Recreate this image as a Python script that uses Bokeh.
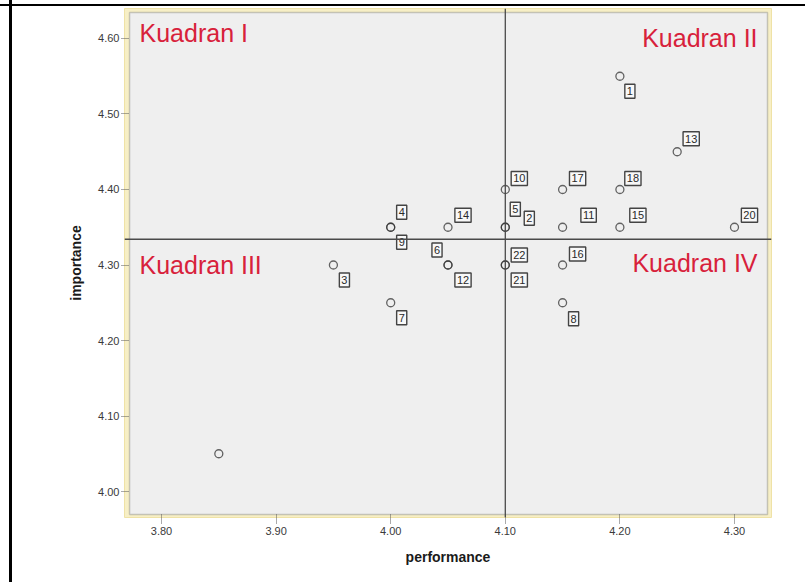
import numpy as np
from bokeh.plotting import figure
from bokeh.models import (ColumnDataSource, FixedTicker, NumeralTickFormatter,
                          Span, BoxAnnotation, Label, Range1d)
from bokeh.core.properties import value
from bokeh.embed import file_html
from bokeh.resources import INLINE

# ---------------- data ----------------
items = ["1", "2", "3", "4", "5", "6", "7", "8", "9", "10", "11",
         "12", "13", "14", "15", "16", "17", "18", "19", "20", "21", "22"]
performance = [4.20, 4.10, 3.95, 4.00, 4.10, 4.05, 4.00, 4.15, 4.00, 4.10, 4.15,
               4.05, 4.25, 4.05, 4.20, 4.15, 4.15, 4.20, 3.85, 4.30, 4.10, 4.10]
importance = [4.55, 4.35, 4.30, 4.35, 4.35, 4.30, 4.25, 4.25, 4.35, 4.40, 4.35,
              4.30, 4.45, 4.35, 4.35, 4.30, 4.40, 4.40, 4.05, 4.35, 4.30, 4.30]
show_label = [True] * 18 + [False] + [True] * 3
x_ticks = [3.80, 3.90, 4.00, 4.10, 4.20, 4.30]
y_ticks = [4.00, 4.10, 4.20, 4.30, 4.40, 4.50, 4.60]
quadrants = ["Kuadran I", "Kuadran II", "Kuadran III", "Kuadran IV"]

# label box offsets in screen pixels (style only)
lab_dx = [10, 24, 11, 11, 10, -11, 11, 11, 11, 14, 26, 15, 14, 15, 18, 15, 15, 13, 0, 15, 14, 14]
lab_dy = [15, -9, 15, -15, -18, -15, 15, 16, 15, -11, -12, 15, -13, -12, -12, -11, -11, -11, 0, -12, 15, -10]

mean_perf = float(np.mean(performance))
mean_imp = float(np.mean(importance))

# ---------------- figure ----------------
W, H = 805, 582
p = figure(width=W, height=H, output_backend="svg", toolbar_location=None,
           x_range=Range1d(3.7677, 4.3323), y_range=Range1d(3.9656, 4.6397),
           min_border_left=124, min_border_right=W - 771, min_border_top=8,
           min_border_bottom=H - 517)
p.background_fill_color = "#f7efc6"
p.border_fill_color = None
p.outline_line_color = "#efe2a6"
p.outline_line_width = 1
p.xgrid.grid_line_color = None
p.ygrid.grid_line_color = None
# document table border lines seen around the chart in the screenshot
p.styles = {
    "background-color": "white",
    "background-image": ("linear-gradient(to right, transparent 9px, black 9px, "
                         "black 12px, transparent 12px), "
                         "linear-gradient(to bottom, transparent 4px, black 4px, "
                         "black 6px, transparent 6px)"),
    "background-repeat": "no-repeat",
}

# inner grey plotting box
p.add_layout(BoxAnnotation(left=3.7721, right=4.3288, bottom=3.9695, top=4.6344,
                           fill_color="#efefef", fill_alpha=1.0,
                           line_color="#5a5a5a", line_width=1.5, level="underlay"))

# mean lines
p.add_layout(Span(location=mean_perf, dimension="height", line_color="#4a4a4a", line_width=1.3))
p.add_layout(Span(location=mean_imp, dimension="width", line_color="#4a4a4a", line_width=1.3))

src = ColumnDataSource(dict(x=performance, y=importance, item=items))
p.scatter("x", "y", source=src, size=8, fill_color=None, line_color="#333333",
          line_width=1.3, line_alpha=0.75)

lab = dict(x=[], y=[], t=[], dx=[], dy=[])
for i, s in enumerate(show_label):
    if s:
        lab["x"].append(performance[i]); lab["y"].append(importance[i])
        lab["t"].append(items[i]); lab["dx"].append(lab_dx[i]); lab["dy"].append(lab_dy[i])
lsrc = ColumnDataSource(lab)
p.text("x", "y", text="t", source=lsrc, x_offset="dx", y_offset="dy",
       text_align="center", text_baseline="middle", text_font=value("Liberation Sans"),
       text_font_size="11px", text_color="#2a2a2a",
       background_fill_color="#f8f8f8", border_line_color="#444444",
       border_line_width=1.4, padding=dict(left=2, right=2, top=3, bottom=3))

# quadrant titles
qcol = "#d8213b"
qpos = [(3.7808, 4.6066, "left"), (4.3201, 4.600, "right"),
        (3.7808, 4.300, "left"), (4.3201, 4.303, "right")]
for name, (qx, qy, al) in zip(quadrants, qpos):
    p.add_layout(Label(x=qx, y=qy, text=name, text_align=al, text_baseline="middle",
                       text_font="Liberation Sans", text_font_size="25px",
                       text_color=qcol))

# axes
for ax, ticks in ((p.xaxis, x_ticks), (p.yaxis, y_ticks)):
    ax.ticker = FixedTicker(ticks=ticks)
    ax.formatter = NumeralTickFormatter(format="0.00")
    ax.axis_line_color = None
    ax.major_tick_line_color = "#555555"
    ax.major_tick_line_dash = "1 1"
    ax.minor_tick_line_color = None
    ax.major_label_text_font = "Liberation Sans"
    ax.major_label_text_font_size = "11px"
    ax.major_label_text_color = "#3a3a3a"
    ax.axis_label_text_font = "Liberation Sans"
    ax.axis_label_text_font_style = "bold"
    ax.axis_label_text_font_size = "14px"
    ax.axis_label_text_color = "#1a1a1a"

p.xaxis.major_tick_in = 4
p.xaxis.major_tick_out = 6
p.xaxis.major_label_standoff = 3
p.xaxis.axis_label = "performance"
p.xaxis.axis_label_standoff = 11
p.yaxis.major_tick_in = 5
p.yaxis.major_tick_out = 3
p.yaxis.major_label_standoff = 2
p.yaxis.axis_label = "importance"
p.yaxis.axis_label_standoff = 11

open("out.html", "w").write(file_html(p, INLINE))
